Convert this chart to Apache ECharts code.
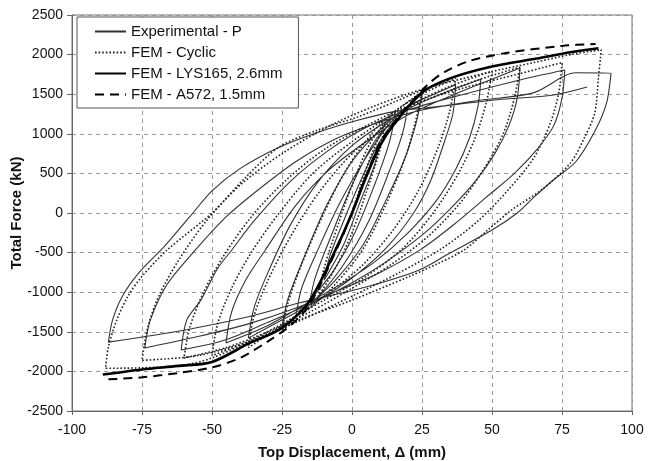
<!DOCTYPE html>
<html lang="en">
<head>
  <meta charset="UTF-8">
  <title>Total Force vs Top Displacement</title>
  <script src="https://cdn.jsdelivr.net/npm/echarts@6/dist/echarts.min.js"></script>
  <style>
    html, body { margin: 0; padding: 0; background: #fff; }
    #main { width: 649px; height: 461px; }
  </style>
</head>
<body>
  <div id="main"></div>

  <script>
  // axis ranges
  const xRange = [-100, 100, 25];
  const yRange = [-2500, 2500, 500];

  // Experimental - P : cycles as [displacement mm, force kN], in loading order
  const expCycle10 = [[0, 0], [5, 480], [10, 900], [8, 600], [3, 150], [-3, -400], [-10, -850]];
  const expCycle15 = [[-8, -550], [-3, -100], [3, 400], [9, 850], [15, 1150], [13, 850], [8, 350], [1, -250], [-7, -750], [-15, -1100]];
  const expCycle20 = [[-13, -800], [-7, -250], [0, 350], [8, 900], [14, 1150], [20, 1350], [18, 1000], [13, 500], [6, -100], [-3, -650], [-12, -1050], [-20, -1300]];
  const expCycle25 = [[-18, -950], [-12, -450], [-4, 150], [5, 700], [14, 1150], [25, 1500], [23, 1150], [19, 700], [12, 150], [4, -400], [-6, -850], [-15, -1150], [-25, -1450]];
  const expCycle37 = [[-23, -1100], [-17, -550], [-9, 100], [0, 650], [10, 1050], [20, 1350], [28, 1480], [37, 1620], [36, 1250], [33, 900], [28, 400], [22, 0], [12, -450], [0, -820], [-12, -1100], [-25, -1350], [-37, -1580]];
  const expCycle45 = [[-35, -1200], [-30, -750], [-22, -150], [-12, 400], [0, 850], [12, 1150], [25, 1400], [36, 1560], [46, 1690], [45, 1350], [42, 950], [37, 550], [30, 150], [20, -250], [8, -620], [-5, -920], [-18, -1180], [-30, -1420], [-45, -1640]];
  const expCycle60 = [[-43, -1250], [-38, -850], [-31, -470], [-20, 100], [-8, 550], [5, 900], [18, 1200], [30, 1400], [45, 1620], [60, 1830], [59, 1450], [56, 1100], [51, 750], [44, 400], [35, 50], [25, -280], [12, -620], [0, -880], [-15, -1150], [-30, -1380], [-45, -1600], [-61, -1730]];
  const expCycle75 = [[-59, -1350], [-54, -1100], [-48, -700], [-43, -470], [-35, -100], [-22, 400], [-8, 800], [5, 1080], [20, 1300], [40, 1500], [60, 1680], [76, 1805], [75, 1450], [72, 1100], [66, 800], [58, 500], [48, 200], [38, -100], [25, -450], [10, -750], [-5, -980], [-20, -1200], [-37, -1400], [-55, -1560], [-74, -1705]];
  const expCycle90 = [[-72, -1350], [-66, -900], [-56, -470], [-45, -50], [-35, 250], [-20, 650], [-5, 950], [10, 1150], [25, 1300], [45, 1420], [65, 1520], [80, 1770], [92.5, 1768], [91, 1400], [87, 1050], [80, 650], [72, 420], [65, 200], [59, 0], [50, -215], [35, -505], [24, -720], [5, -935], [-19, -1137], [-37, -1310], [-60, -1480], [-87, -1630]];
  const expFinal = [[-85.5, -1350], [-82, -1050], [-76, -750], [-67, -420], [-58, -50], [-50, 280], [-40, 560], [-26, 830], [-12, 1020], [2, 1170], [15, 1280], [30, 1340], [52, 1430], [72, 1490], [84, 1590]];

  // FEM - Cyclic
  const femCycle12 = [[0, 0], [6, 650], [12, 1150], [10, 800], [5, 250], [0, -250], [-6, -700], [-12, -1050]];
  const femCycle25 = [[-10, -700], [-5, -150], [0, 350], [6, 850], [12, 1150], [18, 1350], [25, 1530], [23, 1200], [19, 700], [12, 100], [4, -450], [-6, -900], [-15, -1200], [-25, -1480]];
  const femCycle37 = [[-23, -1150], [-18, -650], [-10, 0], [-2, 550], [7, 1000], [15, 1280], [25, 1500], [37, 1700], [35, 1300], [31, 850], [24, 300], [15, -200], [4, -650], [-8, -1000], [-20, -1300], [-37, -1700]];
  const femCycle50 = [[-35, -1300], [-30, -850], [-22, -300], [-12, 250], [0, 750], [12, 1100], [22, 1380], [35, 1600], [50, 1790], [48, 1400], [44, 950], [38, 500], [29, 0], [18, -450], [5, -800], [-10, -1100], [-25, -1400], [-37, -1620], [-50, -1800]];
  const femCycle60 = [[-48, -1400], [-43, -950], [-36, -500], [-26, 0], [-14, 500], [0, 900], [15, 1250], [28, 1450], [45, 1680], [60, 1840], [58, 1450], [54, 1000], [47, 550], [38, 100], [27, -300], [14, -650], [0, -950], [-15, -1250], [-30, -1500], [-45, -1700], [-60, -1830]];
  const femCycle75 = [[-58, -1450], [-53, -1000], [-46, -550], [-36, -50], [-24, 400], [-10, 800], [5, 1100], [20, 1350], [40, 1580], [60, 1760], [75, 1900], [74, 1550], [71, 1150], [65, 700], [56, 300], [45, -100], [32, -450], [17, -750], [0, -1050], [-18, -1350], [-35, -1600], [-55, -1800], [-75, -1860]];
  const femCycle88 = [[-73, -1450], [-69, -1050], [-62, -600], [-52, -100], [-40, 350], [-25, 750], [-8, 1100], [8, 1350], [25, 1560], [48, 1770], [65, 1900], [78, 2000], [89, 2060], [88, 1700], [86.7, 1263], [83, 950], [78, 632], [68, 300], [57, 38], [48, -230], [40, -467], [30, -650], [20, -808], [0, -1100], [-19, -1350], [-35, -1600], [-50, -1830], [-60, -1920], [-75, -1955], [-88, -1960]];
  const femFinal = [[-87, -1690], [-84, -1350], [-80, -1050], [-75, -800], [-66, -467], [-50, 0], [-38, 450], [-26, 834], [-12, 1050], [2, 1213], [15, 1400], [25, 1550], [35, 1680]];

  // FEM - LYS165, 2.6mm (monotonic)
  const lys165 = [[-89, -2040], [-75, -1975], [-62, -1930], [-50, -1880], [-37, -1650], [-25, -1450], [-15, -1100], [-5, -400], [0, 0], [5, 450], [10, 850], [15, 1120], [25, 1520], [35, 1700], [50, 1850], [66, 1950], [78, 2030], [88, 2080]];

  // FEM - A572, 1.5mm (monotonic)
  const a572 = [[-87, -2100], [-75, -2075], [-62, -2020], [-50, -1950], [-40, -1830], [-30, -1620], [-22, -1420], [-15, -1150], [-5, -420], [0, 0], [5, 470], [10, 880], [15, 1150], [20, 1350], [27, 1620], [33, 1780], [42, 1920], [55, 2020], [75, 2110], [87, 2135]];

  const expPath = [].concat(expCycle10, expCycle15, expCycle20, expCycle25, expCycle37, expCycle45, expCycle60, expCycle75, expCycle90, expFinal);
  const femPath = [].concat(femCycle12, femCycle25, femCycle37, femCycle50, femCycle60, femCycle75, femCycle88, femFinal);

  const chart = echarts.init(document.getElementById('main'));
  const font = 'Arial, "Liberation Sans", sans-serif';

  chart.setOption({
    animation: false,
    backgroundColor: '#fff',
    grid: {
      left: 72, right: 17, top: 15, bottom: 50,
      outerBoundsMode: 'none',
      show: true, borderColor: '#777', borderWidth: 1
    },
    legend: {
      left: 77, top: 17,
      orient: 'vertical',
      backgroundColor: '#fff',
      borderColor: '#555', borderWidth: 1,
      padding: [7, 16, 6, 17],
      itemWidth: 31, itemHeight: 14, itemGap: 6,
      itemStyle: { opacity: 0 },
      textStyle: { fontFamily: font, fontSize: 15, color: '#111' },
      data: ['Experimental - P', 'FEM - Cyclic', 'FEM - LYS165, 2.6mm', 'FEM - A572, 1.5mm']
    },
    xAxis: {
      type: 'value', min: xRange[0], max: xRange[1], interval: xRange[2],
      name: 'Top Displacement, \u0394 (mm)', nameLocation: 'middle', nameGap: 34,
      nameMoveOverlap: false,
      nameTextStyle: { fontFamily: font, fontSize: 15, fontWeight: 'bold', color: '#111' },
      axisLine: { onZero: false, lineStyle: { color: '#666' } },
      axisTick: { show: true, length: 4, lineStyle: { color: '#666' } },
      axisLabel: { fontFamily: font, fontSize: 14, color: '#111', margin: 12 },
      splitLine: { lineStyle: { color: '#999', type: [4, 4] } }
    },
    yAxis: {
      type: 'value', min: yRange[0], max: yRange[1], interval: yRange[2],
      name: 'Total Force (kN)', nameLocation: 'middle', nameGap: 48,
      nameMoveOverlap: false,
      nameTextStyle: { fontFamily: font, fontSize: 15, fontWeight: 'bold', color: '#111' },
      axisLine: { onZero: false, lineStyle: { color: '#666' } },
      axisTick: { show: true, length: 5, lineStyle: { color: '#666' } },
      axisLabel: { fontFamily: font, fontSize: 14, color: '#111', margin: 9, formatter: v => String(v) },
      splitLine: { lineStyle: { color: '#999', type: [4, 4] } }
    },
    series: [
      {
        name: 'Experimental - P', type: 'line', data: expPath,
        showSymbol: false, symbol: 'none', smooth: 0.3,
        itemStyle: { color: '#333' },
        lineStyle: { color: '#333', width: 1.1 }, z: 2
      },
      {
        name: 'FEM - Cyclic', type: 'line', data: femPath,
        showSymbol: false, symbol: 'none', smooth: 0.3,
        itemStyle: { color: '#222' },
        lineStyle: { color: '#222', width: 1.6, type: [1.6, 2] }, z: 3
      },
      {
        name: 'FEM - LYS165, 2.6mm', type: 'line', data: lys165,
        showSymbol: false, symbol: 'none', smooth: 0.3,
        itemStyle: { color: '#000' },
        lineStyle: { color: '#000', width: 2.6 }, z: 4
      },
      {
        name: 'FEM - A572, 1.5mm', type: 'line', data: a572,
        showSymbol: false, symbol: 'none', smooth: 0.3,
        itemStyle: { color: '#000' },
        lineStyle: { color: '#000', width: 2, type: [9, 6] }, z: 4
      }
    ]
  });
  </script>
</body>
</html>
